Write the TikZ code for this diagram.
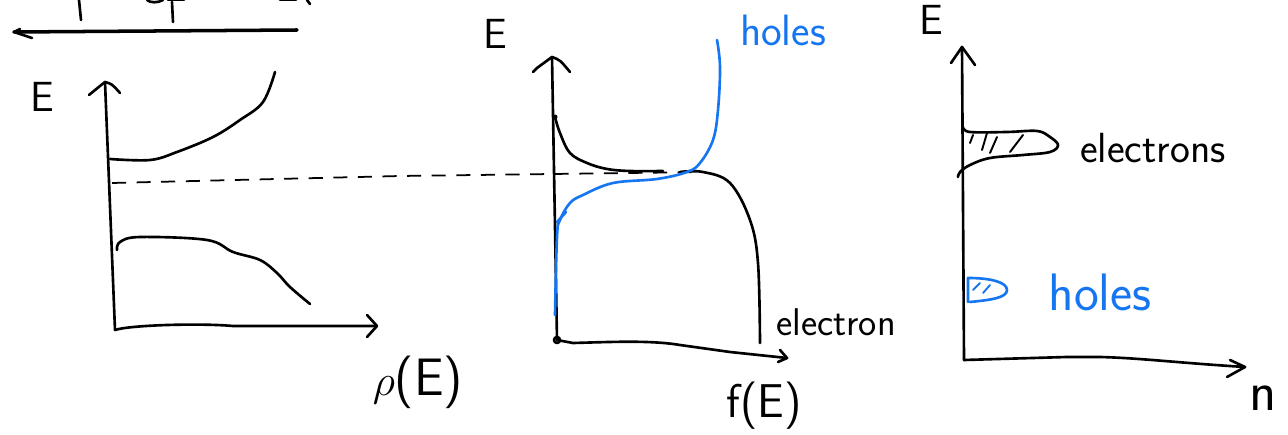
\documentclass[tikz,border=0pt]{standalone}
\usetikzlibrary{arrows.meta}
\definecolor{holeblue}{RGB}{22,118,242}
\begin{document}
\begin{tikzpicture}[x=0.02cm,y=-0.02cm,
  pen/.style={line width=1.5pt,line cap=round,line join=round},
  bpen/.style={pen,color=holeblue},
  lbl/.style={font=\sffamily\fontsize{24}{28}\selectfont,inner sep=0pt},
  blbl/.style={lbl,text=holeblue},
  fermi/.style={line width=1pt,dash pattern=on 8pt off 6pt}]
\useasboundingbox (0,0) rectangle (1288,435);
% ---- top-left cut fragments
\draw[pen] (79,0) -- (81,20);
\draw[pen] (172,2) -- (173,22);
\draw[pen] (147,0) .. controls (150,3) and (158,3) .. (163,0);
\draw[pen] (168,0) -- (184,0);
\draw[pen] (280,0) -- (296,0);
\draw[pen] (307,0) -- (310,4);
\draw[pen,line width=2pt] (14,32) -- (297,30);
\draw[pen] (14,32) -- (20,29);
\draw[pen] (14,32) -- (32,38);
% ---- left plot
\coordinate (lo) at (115,330);
\coordinate (ltop) at (105,82);
\coordinate (lx) at (377,326);
\draw[pen] (lo) -- (ltop);
\draw[pen] (89,95) -- (100,86) -- (ltop) .. controls (112,84) .. (120,93);
\draw[pen] (lo) .. controls (130,325) and (200,323) .. (233,326) -- (lx);
\draw[pen] (367,315) -- (lx) -- (367,337);
\node[lbl] (lE) at (42,97) {E};
\node[lbl,font=\sffamily\fontsize{30}{34}\selectfont] (lrho) at (418,382) {$\rho$(E)};
\draw[pen] plot[smooth,tension=0.6] coordinates {(110,159) (150,160) (177,152) (213,137) (240,120) (263,102) (275,72)};
\draw[pen] plot[smooth,tension=0.6] coordinates {(117,250) (120,242) (140,237) (207,240) (233,252) (260,260) (277,273) (290,287) (310,304)};
\draw[fermi] (112,183) -- (400,176) -- (705,172);
% ---- middle plot
\coordinate (mo) at (557,340);
\coordinate (mtop) at (552,57);
\coordinate (mx) at (787,358);
\draw[pen] (mo) -- (mtop);
\draw[pen] (533,72) -- (537,68) -- (mtop) .. controls (560,60) .. (570,72);
\draw[pen] (mo) -- (573,343) .. controls (610,342) and (650,340) .. (680,345) -- (730,352) -- (mx);
\draw[pen] (780,350) -- (mx) -- (778,362);
\draw[pen] (557,340) circle (3);
\node[lbl] (mE) at (495,34) {E};
\node[lbl,font=\sffamily\fontsize{27}{31}\selectfont] (mf) at (764,406) {f(E)};
\fill (555,117) circle (2.5);
\draw[pen] plot[smooth,tension=0.6] coordinates {(555,117) (560,133) (570,153) (587,163) (607,169) (630,171) (663,171)};
\draw[pen] plot[smooth,tension=0.6] coordinates {(680,172) (703,172) (730,183) (750,220) (758,263) (760,343)};
\draw[bpen] plot[smooth,tension=0.6] coordinates {(555,315) (557,237) (560,220) (570,203) (583,195) (613,183) (657,179) (687,172) (700,163) (713,140) (718,110) (720,67) (717,40)};
\draw[bpen] (557,222) -- (566,212);
\node[blbl,font=\sffamily\fontsize{25}{29}\selectfont] (mholes) at (783,30) {holes};
\node[lbl,font=\sffamily\fontsize{22}{26}\selectfont] (melec) at (836,322) {electron};
% ---- right plot
\coordinate (ro) at (964,360);
\coordinate (rtop) at (962,47);
\coordinate (rx) at (1245,367);
\draw[pen] (ro) -- (rtop);
\draw[pen] (951,63) -- (rtop) -- (975,65);
\draw[pen] (ro) -- (1067,357) -- (1100,357) .. controls (1140,358) and (1180,363) .. (rx);
\draw[pen] (1230,360) -- (rx) -- (1227,377);
\node[lbl] (rE) at (931,20) {E};
\node[lbl,font=\sffamily\fontsize{32}{36}\selectfont] (rn) at (1263,398) {n};
\draw[pen] plot[smooth,tension=0.6] coordinates {(963,127) (970,132) (1007,132) (1037,131) (1050,137) (1058,145) (1050,152) (1023,155) (990,158) (970,165) (960,172) (958,177)};
\draw[pen,line width=1.1pt] (970,143) -- (973,135);
\draw[pen,line width=1.1pt] (982,150) -- (987,133);
\draw[pen,line width=1.1pt] (990,153) -- (997,137);
\draw[pen,line width=1.1pt] (1010,152) -- (1023,135);
\node[lbl,font=\sffamily\fontsize{24}{28}\selectfont] (relec) at (1153,148) {electrons};
\draw[bpen] (968,302) -- (968,278) .. controls (990,278) and (1007,282) .. (1007,290) .. controls (1007,298) and (990,300) .. (970,302);
\draw[bpen,line width=1.1pt] (973,290) -- (980,283);
\draw[bpen,line width=1.1pt] (983,293) -- (990,285);
\node[blbl,font=\sffamily\fontsize{30}{34}\selectfont] (rholes) at (1100,292) {holes};
\end{tikzpicture}
\end{document}
